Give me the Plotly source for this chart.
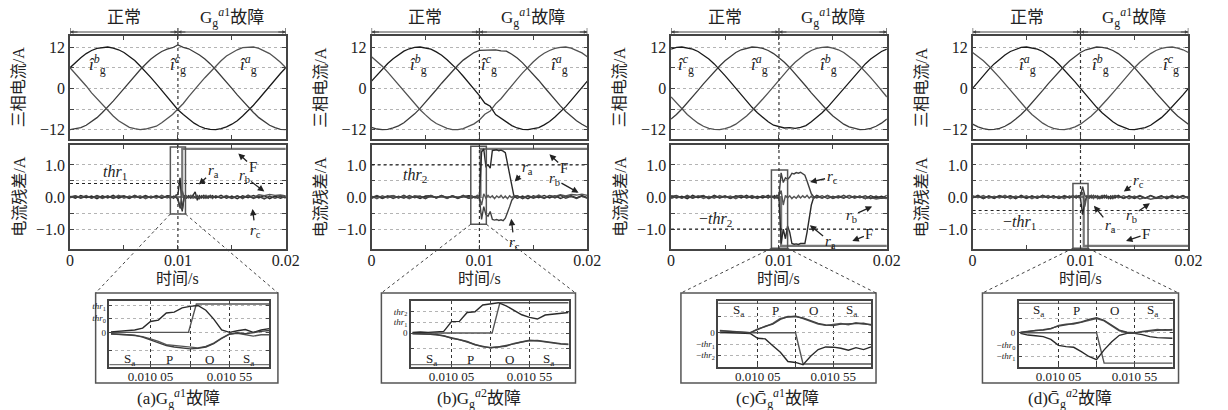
import plotly.graph_objects as go

FW, FH = 1228, 410
FONT = "Liberation Serif, Noto Sans CJK SC, serif"
M = "\u2212"

# ---------------- sample times ----------------
t_cur = [round(k * 0.0005, 5) for k in range(41)]
t_res = ([round(k * 0.0005, 5) for k in range(19)]
         + [0.0093, 0.0096, 0.0098, 0.0100, 0.0102, 0.0104, 0.0106, 0.0108, 0.0110, 0.0112,
            0.0114, 0.0116, 0.0118, 0.0120, 0.0122, 0.0124, 0.0126, 0.0128, 0.0130, 0.0132]
         + [round(0.0135 + k * 0.0005, 5) for k in range(14)])
t_in = [round(0.0098 + k * 0.00005, 6) for k in range(21)]

# ---------------- three-phase currents (A) ----------------
ia_a = [6.0, 4.3, 2.4, 0.7, -1.3, -3.0, -4.9, -6.6, -8.0, -9.4, -10.3, -11.3, -11.7, -12.0, -11.8, -11.5, -11.0, -10.0, -8.9, -7.6,
        -6.0, -4.4, -2.4, -0.7, 1.3, 3.1, 4.8, 6.6, 8.0, 9.4, 10.3, 11.2, 11.8, 11.9, 12.0, 11.6, 10.9, 10.1, 8.9, 7.6, 6.0]
ib_a = [6.0, 7.6, 8.9, 10.1, 11.0, 11.6, 11.9, 12.0, 11.7, 11.2, 10.4, 9.3, 8.1, 6.5, 4.9, 3.1, 1.3, -0.6, -2.5, -4.3,
        -6.2, -7.6, -8.9, -10.1, -11.0, -11.6, -11.9, -12.0, -11.7, -11.2, -10.4, -9.4, -8.0, -6.5, -4.9, -3.1, -1.2, 0.6, 2.5, 4.3, 6.0]
ic_a = [-12.0, -11.8, -11.4, -10.7, -9.7, -8.5, -7.0, -5.5, -3.7, -1.9, 0.0, 1.9, 3.7, 5.4, 7.0, 8.5, 9.7, 10.7, 11.4, 11.8,
        12.6, 11.9, 11.5, 10.7, 9.7, 8.5, 7.1, 5.4, 3.7, 1.9, 0.0, -1.9, -3.7, -5.5, -7.0, -8.5, -9.7, -10.7, -11.4, -11.9, -12.0]

ia_b = [9.2, 7.9, 6.4, 4.7, 2.9, 1.0, -0.8, -2.7, -4.5, -6.2, -7.7, -9.1, -10.2, -11.0, -11.6, -12.0, -12.0, -11.7, -11.1, -10.3,
        -9.2, -7.5, -6.6, -4.5, -3.0, -1.0, 0.8, 2.7, 4.5, 6.2, 7.7, 9.1, 10.2, 11.0, 11.6, 11.9, 12.0, 11.7, 11.1, 10.3, 9.2]
ib_b = [2.1, 3.9, 5.6, 7.2, 8.6, 9.8, 10.8, 11.5, 11.9, 12.0, 11.8, 11.4, 10.6, 9.6, 8.3, 6.9, 5.3, 3.5, 1.7, -0.2,
        -2.1, -4.3, -5.2, -7.6, -8.6, -9.8, -10.8, -11.5, -11.9, -12.0, -11.8, -11.4, -10.6, -9.6, -8.3, -6.9, -5.3, -3.5, -1.7, 0.2, 2.1]
ic_b = [-11.3, -11.8, -12.0, -11.9, -11.5, -10.9, -10.0, -8.8, -7.4, -5.8, -4.1, -2.3, -0.4, 1.5, 3.3, 5.1, 6.7, 8.2, 9.4, 10.4,
        11.0, 11.1, 11.0, 11.2, 10.9, 10.8, 9.9, 8.8, 7.4, 5.8, 4.1, 2.3, 0.4, -1.5, -3.3, -5.1, -6.7, -8.2, -9.4, -10.4, -11.3]

ia_c = [-8.9, -7.6, -6.0, -4.3, -2.5, -0.6, 1.3, 3.1, 4.9, 6.5, 8.0, 9.3, 10.4, 11.2, 11.7, 12.0, 11.9, 11.6, 11.0, 10.1,
        8.9, 7.6, 6.0, 4.3, 2.5, 0.6, -1.3, -3.1, -4.9, -6.5, -8.0, -9.3, -10.4, -11.2, -11.7, -12.0, -11.9, -11.6, -11.0, -10.1, -8.9]
ib_c = [-2.5, -4.3, -6.0, -7.6, -8.9, -10.1, -11.0, -11.6, -11.9, -12.0, -11.7, -11.2, -10.4, -9.3, -8.0, -6.5, -4.9, -3.1, -1.3, 0.6,
        2.5, 4.3, 6.0, 7.6, 8.9, 10.1, 11.0, 11.6, 11.9, 12.0, 11.7, 11.2, 10.4, 9.3, 8.0, 6.5, 4.9, 3.1, 1.3, -0.6, -2.5]
ic_c = [11.4, 11.9, 12.0, 11.8, 11.4, 10.7, 9.7, 8.5, 7.1, 5.5, 3.7, 1.9, 0.0, -1.9, -3.7, -5.5, -7.1, -8.5, -9.7, -10.7,
        -11.2, -11.5, -11.4, -11.6, -11.3, -10.8, -9.7, -8.5, -7.1, -5.5, -3.7, -1.9, 0.0, 1.9, 3.7, 5.5, 7.1, 8.5, 9.7, 10.7, 11.4]

ia_d = [0.0, 1.9, 3.7, 5.5, 7.1, 8.5, 9.7, 10.7, 11.4, 11.9, 12.0, 11.8, 11.4, 10.7, 9.7, 8.5, 7.0, 5.4, 3.7, 1.9,
        0.0, -1.9, -3.7, -5.5, -7.1, -8.5, -9.7, -10.7, -11.4, -11.9, -12.0, -11.8, -11.4, -10.7, -9.7, -8.5, -7.0, -5.4, -3.7, -1.9, 0.0]
ib_d = [-10.4, -11.2, -11.7, -12.0, -11.9, -11.6, -11.0, -10.1, -8.9, -7.6, -6.0, -4.3, -2.5, -0.6, 1.3, 3.1, 4.9, 6.5, 8.0, 9.3,
        10.4, 11.2, 11.7, 12.0, 11.9, 11.6, 11.0, 10.1, 8.9, 7.6, 6.0, 4.3, 2.5, 0.6, -1.3, -3.1, -4.9, -6.5, -8.0, -9.3, -10.4]
ic_d = [10.4, 9.3, 8.0, 6.5, 4.9, 3.1, 1.3, -0.6, -2.5, -4.3, -6.0, -7.6, -8.9, -10.1, -11.0, -11.6, -11.9, -12.0, -11.7, -11.2,
        -10.4, -9.3, -8.0, -6.5, -4.9, -3.1, -1.3, 0.6, 2.5, 4.3, 6.0, 7.6, 8.9, 10.1, 11.0, 11.6, 11.9, 12.0, 11.7, 11.2, 10.4]

# ---------------- current residuals (A) ----------------
ra_a = ([0.02, -0.04, 0.05, -0.02, 0.03, -0.05, 0.04, -0.03, 0.05, -0.04, 0.02, -0.05, 0.04, -0.02, 0.05, -0.03, 0.03, -0.04, 0.04]
        + [0.03, -0.04, 0.05, 0.08, 0.60, -0.45, 0.05, -0.03, 0.04, -0.02, 0.05, 0.16, -0.10, 0.04, -0.03, 0.05, -0.04, 0.03, -0.02, 0.04]
        + [-0.03, 0.05, -0.04, 0.03, -0.05, 0.04, -0.02, 0.05, -0.03, 0.04, -0.05, 0.03, -0.04, 0.02])
rb_a = ([-0.03, 0.04, -0.02, 0.05, -0.04, 0.03, -0.05, 0.02, -0.03, 0.05, -0.04, 0.03, -0.02, 0.04, -0.05, 0.03, -0.04, 0.05, -0.03]
        + [0.02, -0.03, 0.04, -0.10, -0.35, 0.20, -0.02, 0.04, -0.03, 0.05, -0.04, 0.02, 0.05, -0.03, 0.04, -0.02, 0.05, -0.04, 0.03, -0.05]
        + [0.04, -0.02, 0.05, -0.03, 0.04, -0.05, 0.06, -0.02, 0.07, 0.04, 0.08, 0.05, 0.06, 0.03])
rc_a = ([0.01, 0.03, -0.04, 0.02, -0.03, 0.05, -0.02, 0.04, -0.05, 0.02, 0.04, -0.03, 0.05, -0.04, 0.02, -0.02, 0.05, -0.03, 0.02]
        + [-0.04, 0.03, -0.02, -0.05, -0.30, -0.40, 0.05, -0.03, 0.02, -0.04, 0.05, -0.03, 0.02, -0.05, 0.03, -0.04, 0.02, -0.03, 0.05, -0.02]
        + [0.03, -0.04, 0.02, -0.05, 0.03, -0.02, 0.04, -0.05, 0.02, -0.06, 0.03, -0.04, 0.02, -0.03])

ra_b = ([-0.04, 0.03, -0.05, 0.02, 0.04, -0.03, 0.05, -0.04, 0.02, -0.05, 0.03, 0.04, -0.02, 0.05, -0.04, 0.03, -0.05, 0.02, 0.04]
        + [0.03, -0.02, 0.04, 0.02, 1.40, 1.50, 0.95, 1.00, 0.90, 1.45, 1.46, 1.47, 1.44, 1.46, 1.43, 1.38, 1.05, 0.70, 0.30, 0.02]
        + [-0.04, 0.03, -0.05, 0.04, -0.02, 0.05, -0.03, 0.04, -0.05, 0.02, 0.04, -0.03, 0.05, -0.02])
rb_b = ([0.03, -0.05, 0.04, -0.03, 0.05, -0.02, 0.03, -0.05, 0.04, 0.02, -0.04, 0.05, -0.03, 0.02, -0.05, 0.04, -0.02, 0.03, -0.04]
        + [0.02, -0.03, 0.05, -0.02, -0.25, 0.10, -0.04, 0.05, -0.02, 0.04, -0.05, 0.03, -0.02, 0.05, -0.04, 0.03, -0.05, 0.04, -0.02, 0.05]
        + [0.03, -0.03, 0.05, -0.02, 0.06, -0.03, 0.05, 0.02, 0.07, 0.03, 0.08, 0.06, 0.09, 0.05])
rc_b = ([-0.02, 0.05, -0.03, 0.04, -0.05, 0.02, -0.04, 0.05, -0.02, 0.03, -0.05, 0.04, -0.03, 0.05, -0.02, 0.04, -0.03, 0.05, -0.04]
        + [-0.03, 0.02, -0.04, -0.02, -0.70, -0.30, -0.55, -0.60, -0.45, -0.70, -0.72, -0.70, -0.73, -0.71, -0.74, -0.66, -0.50, -0.30, -0.10, -0.02]
        + [0.04, -0.05, 0.03, -0.04, 0.02, -0.05, 0.04, -0.03, 0.05, -0.04, 0.02, -0.05, 0.03, -0.04])

ra_c = ([0.04, -0.03, 0.02, -0.05, 0.05, -0.02, 0.03, -0.04, 0.05, -0.03, 0.02, -0.05, 0.04, -0.03, 0.05, -0.04, 0.02, -0.03, 0.05]
        + [-0.02, 0.04, -0.03, -0.03, -1.45, -1.00, -1.30, -0.90, -1.10, -1.45, -1.47, -1.46, -1.48, -1.45, -1.46, -1.45, -1.10, -0.70, -0.25, -0.03]
        + [0.05, -0.03, 0.04, -0.05, 0.02, -0.04, 0.05, -0.02, 0.03, -0.05, 0.04, -0.03, 0.02, -0.04])
rb_c = ([-0.05, 0.02, -0.04, 0.05, -0.03, 0.04, -0.05, 0.02, -0.04, 0.05, -0.02, 0.03, -0.05, 0.04, -0.02, 0.05, -0.03, 0.04, -0.02]
        + [0.03, -0.05, 0.02, 0.04, 0.20, -0.25, 0.05, -0.03, 0.04, -0.05, 0.02, -0.04, 0.05, -0.03, 0.04, -0.02, 0.05, -0.04, 0.03, -0.05]
        + [0.02, -0.04, 0.05, -0.03, 0.04, -0.02, 0.05, -0.04, 0.02, -0.05, -0.02, -0.06, -0.03, -0.05])
rc_c = ([0.02, 0.05, -0.03, 0.03, -0.04, 0.02, 0.05, -0.05, 0.03, -0.02, 0.04, -0.04, 0.02, 0.05, -0.03, 0.02, -0.05, 0.04, -0.03]
        + [0.04, -0.03, 0.05, 0.03, 0.75, 0.45, 0.60, 0.55, 0.62, 0.74, 0.72, 0.76, 0.74, 0.77, 0.73, 0.68, 0.50, 0.30, 0.10, 0.02]
        + [-0.03, 0.04, -0.05, 0.02, -0.03, 0.05, -0.04, 0.03, -0.02, 0.04, -0.05, 0.03, -0.04, 0.05])

ra_d = ([-0.03, 0.05, -0.04, 0.02, -0.05, 0.04, -0.02, 0.03, -0.05, 0.05, -0.03, 0.02, -0.04, 0.05, -0.03, 0.04, -0.05, 0.02, -0.03]
        + [0.04, -0.02, 0.03, -0.05, -0.55, -0.15, 0.03, -0.04, 0.05, -0.03, 0.04, -0.05, 0.02, -0.04, 0.05, -0.03, 0.02, -0.05, 0.04, -0.03]
        + [0.05, -0.04, 0.02, -0.05, 0.03, -0.04, 0.05, -0.02, 0.04, -0.05, 0.03, -0.02, 0.05, -0.04])
rb_d = ([0.04, -0.02, 0.05, -0.04, 0.02, -0.03, 0.05, -0.05, 0.03, -0.02, 0.04, -0.05, 0.03, -0.02, 0.05, -0.04, 0.03, -0.05, 0.04]
        + [-0.03, 0.05, -0.02, 0.04, 0.15, -0.30, 0.05, -0.02, 0.04, -0.05, 0.03, -0.04, 0.02, 0.05, -0.03, 0.04, -0.05, 0.03, -0.02, 0.05]
        + [-0.03, 0.04, -0.05, 0.03, -0.06, -0.02, -0.07, -0.03, -0.05, 0.02, -0.04, 0.03, -0.05, 0.02])
rc_d = ([-0.02, 0.03, -0.05, 0.04, -0.03, 0.05, -0.02, 0.04, -0.03, 0.02, -0.05, 0.04, -0.03, 0.05, -0.02, 0.03, -0.04, 0.05, -0.02]
        + [0.05, -0.03, 0.04, 0.05, 0.32, 0.05, -0.02, 0.04, -0.03, 0.05, -0.02, 0.04, -0.05, 0.03, -0.02, 0.05, -0.04, 0.03, -0.05, 0.04]
        + [0.02, -0.05, 0.04, -0.02, 0.05, -0.03, 0.04, -0.05, 0.02, -0.03, 0.05, -0.04, 0.03, -0.02])

# fault flag F (step)
fa_t, fa_v = [0, 0.0104, 0.02], [0, 1.5, 1.5]
fb_t, fb_v = [0, 0.0101, 0.02], [0, 1.5, 1.5]
fc_t, fc_v = [0, 0.0102, 0.02], [0, -1.52, -1.52]
fd_t, fd_v = [0, 0.0103, 0.02], [0, -1.52, -1.52]

# ---------------- zoomed insets ----------------
ina_ra = [0.01, 0.02, 0.03, 0.05, 0.09, 0.23, 0.26, 0.41, 0.43, 0.52, 0.55, 0.57, 0.47, 0.28, 0.05, 0.0, 0.035, 0.06, 0.0, 0.05, 0.08]
ina_rb = [-0.035, -0.035, -0.05, -0.07, -0.09, -0.14, -0.19, -0.26, -0.28, -0.30, -0.315, -0.33, -0.30, -0.23, -0.12, -0.035, -0.02, -0.05, -0.08, -0.05, -0.05]
ina_rc = [-0.03, -0.04, -0.045, -0.06, -0.10, -0.16, -0.22, -0.28, -0.31, -0.33, -0.35, -0.34, -0.31, -0.24, -0.13, -0.04, -0.01, -0.03, 0.0, 0.02, 0.04]
ina_ft, ina_fv = [0.0098, 0.01029, 0.01034, 0.0108], [0, 0, 0.6, 0.6]

inb_ra = [0.03, 0.05, 0.03, 0.05, 0.08, 0.54, 0.55, 0.97, 1.0, 1.32, 1.36, 1.43, 1.28, 1.08, 0.86, 0.74, 0.66, 0.85, 0.89, 0.95, 0.97]
inb_rb = [-0.03, -0.03, -0.05, -0.08, -0.12, -0.25, -0.31, -0.42, -0.52, -0.65, -0.68, -0.65, -0.62, -0.49, -0.40, -0.34, -0.37, -0.43, -0.49, -0.52, -0.54]
inb_rc = [-0.02, -0.04, -0.04, -0.07, -0.14, -0.23, -0.34, -0.40, -0.55, -0.62, -0.70, -0.66, -0.60, -0.51, -0.42, -0.36, -0.35, -0.41, -0.47, -0.50, -0.52]
inb_ft, inb_fv = [0.0098, 0.01031, 0.01036, 0.0108], [0, 0, 1.43, 1.43]

inc_ra = [0.03, 0.015, 0.0, -0.015, -0.03, -0.25, -0.28, -0.59, -0.89, -1.32, -1.36, -1.46, -1.08, -0.77, -0.65, -0.66, -0.71, -0.80, -0.68, -0.77, -0.65]
inc_rb = [0.11, 0.08, 0.05, 0.02, 0.0, 0.18, 0.28, 0.43, 0.66, 0.72, 0.77, 0.65, 0.52, 0.40, 0.34, 0.37, 0.43, 0.37, 0.46, 0.40, 0.38]
inc_rc = [0.09, 0.07, 0.04, 0.03, 0.01, 0.15, 0.30, 0.40, 0.62, 0.75, 0.74, 0.68, 0.55, 0.43, 0.36, 0.33, 0.40, 0.41, 0.42, 0.44, 0.36]
inc_ft, inc_fv = [0.0098, 0.0103, 0.01035, 0.0108], [0, 0, -1.43, -1.43]

ind_ra = [-0.03, -0.11, -0.14, -0.18, -0.31, -0.59, -0.65, -0.68, -0.88, -1.11, -1.26, -0.80, -0.42, -0.12, -0.03, -0.03, -0.09, -0.18, -0.23, -0.26, -0.26]
ind_rb = [0.0, 0.06, 0.11, 0.12, 0.18, 0.34, 0.40, 0.40, 0.48, 0.59, 0.66, 0.55, 0.31, 0.09, 0.0, -0.03, 0.06, 0.12, 0.15, 0.12, 0.15]
ind_rc = [0.02, 0.05, 0.09, 0.14, 0.20, 0.31, 0.37, 0.42, 0.50, 0.62, 0.70, 0.58, 0.34, 0.12, 0.02, 0.0, 0.04, 0.09, 0.11, 0.14, 0.12]
ind_ft, ind_fv = [0.0098, 0.0103, 0.01035, 0.0108], [0, 0, -1.42, -1.42]

phase_t = [0.00992, 0.01017, 0.01042, 0.01067]
phase_txt = ["S<sub>a</sub>", "P", "O", "S<sub>a</sub>"]

def thr(s, sub):
    return f"{s}<i>thr</i><sub>{sub}</sub>"

def rl(s):
    return f"<i>r</i><sub>{s}</sub>"

panels = [
    dict(cur=[ib_a, ic_a, ia_a], cur_lab=[("b", 0.00256), ("c", 0.01005), ("a", 0.01653)],
         res=[ra_a, rb_a, rc_a], flag=(fa_t, fa_v), thr=0.42, thr_txt=thr("", 1), thr_pos=(0.0042, 0.77),
         zbox=(0.0093, 0.0107, -0.53, 1.56),
         rlab=[(rl("a"), 0.01187, 0.37, 15, -14), ("F", 0.01553, 1.38, 15, 14),
               (rl("b"), 0.01808, 0.15, -21, -16), (rl("c"), 0.0169, -0.34, 3, 23)],
         ins=(ina_ra, ina_rb, ina_rc, ina_ft, ina_fv), iyr=[-0.735, 0.665],
         itv=[-0.39, 0, 0.30, 0.56], itt=["", "0", thr("", 0), thr("", 1)], ph_y=0.12,
         cap="(a)G<sub>g</sub><sup><i>a</i>1</sup>故障"),
    dict(cur=[ib_b, ic_b, ia_b], cur_lab=[("b", 0.00431), ("c", 0.01092), ("a", 0.01743)],
         res=[ra_b, rb_b, rc_b], flag=(fb_t, fb_v), thr=1.0, thr_txt=thr("", 2), thr_pos=(0.00404, 0.68),
         zbox=(0.0092, 0.01064, -0.85, 1.58),
         rlab=[(rl("a"), 0.01321, 0.46, 13, -14), ("F", 0.01642, 1.35, 15, 14),
               (rl("b"), 0.01927, 0.12, -25, -14), (rl("c"), 0.01294, -0.65, 3, 25)],
         ins=(inb_ra, inb_rb, inb_rc, inb_ft, inb_fv), iyr=[-1.60, 1.51],
         itv=[-0.75, 0, 0.52, 1.02], itt=["", "0", thr("", 1), thr("", 2)], ph_y=0.12,
         cap="(b)G<sub>g</sub><sup><i>a</i>2</sup>故障"),
    dict(cur=[ic_c, ia_c, ib_c], cur_lab=[("c", 0.00137), ("a", 0.00822), ("b", 0.01461)],
         res=[ra_c, rb_c, rc_c], flag=(fc_t, fc_v), thr=-1.0, thr_txt=thr(M, 2), thr_pos=(0.00411, -0.71),
         zbox=(0.0093, 0.0108, -1.6, 0.84),
         rlab=[(rl("c"), 0.01279, 0.46, 23, -5), (rl("b"), 0.01872, -0.28, -22, 10),
               (rl("a"), 0.01279, -0.86, 21, 17), ("F", 0.01671, -1.38, 18, -7)],
         ins=(inc_ra, inc_rb, inc_rc, inc_ft, inc_fv), iyr=[-1.57, 1.46],
         itv=[-1.02, -0.52, 0, 0.75], itt=[thr(M, 2), thr(M, 1), "0", ""], ph_y=0.86,
         cap="(c)Ḡ<sub>g</sub><sup><i>a</i>1</sup>故障"),
    dict(cur=[ia_d, ib_d, ic_d], cur_lab=[("a", 0.00505), ("b", 0.01183), ("c", 0.01835)],
         res=[ra_d, rb_d, rc_d], flag=(fd_t, fd_v), thr=-0.42, thr_txt=thr(M, 1), thr_pos=(0.00431, -0.8),
         zbox=(0.0093, 0.0107, -1.6, 0.42),
         rlab=[(rl("c"), 0.01394, 0.15, 15, -11), (rl("a"), 0.01119, -0.25, 17, 21),
               (rl("b"), 0.01651, -0.18, -19, 13), ("F", 0.01413, -1.38, 21, -7)],
         ins=(ind_ra, ind_rb, ind_rc, ind_ft, ind_fv), iyr=[-1.60, 1.48],
         itv=[-1.1, -0.56, 0, 0.66], itt=[thr(M, 1), thr(M, 0), "0", ""], ph_y=0.86,
         cap="(d)Ḡ<sub>g</sub><sup><i>a</i>2</sup>故障"),
]

# ---------------- layout geometry (pixels) ----------------
PL = [67, 373, 677, 983]
PW = 219
TOP = (36, 139)
MID = (145, 249)
INX = [(107, 269), (413, 573), (725, 880), (1030, 1186)]
INY = (301, 367)
BOXX = [(93, 278), (383, 580), (687, 885), (993, 1192)]
BOXY = (293, 383)
CAPX = [177, 482, 785, 1082]
HDR_Y = 32

def fx(p): return p / FW
def fy(p): return 1 - p / FH

TR = (0, 0.02)
MR = (-1.62, 1.62)
IR = (0.00979, 0.0108)

AX = dict(showline=True, linecolor="#444", linewidth=1.5, mirror="ticks", ticks="inside",
          ticklen=4, tickcolor="#444", tickwidth=1, zeroline=False, showgrid=False,
          tickfont=dict(family=FONT, size=16, color="#222"))

fig = go.Figure()
lay = {}
ann = []
shp = []
cur_cols = ["#1a1a1a", "#3c3c3c", "#525252"]
res_cols = ["#2a2a2a", "#555555", "#404040"]

def sfx(n):
    return "" if n == 1 else str(n)

def A(**kw):
    d = dict(xanchor="center", yanchor="middle")
    d.update(kw)
    ann.append(d)

for p, P in enumerate(panels):
    nt, nm, ni = 3 * p + 1, 3 * p + 2, 3 * p + 3
    xt, yt = "x" + sfx(nt), "y" + sfx(nt)
    xm, ym = "x" + sfx(nm), "y" + sfx(nm)
    xi, yi = "x" + sfx(ni), "y" + sfx(ni)
    dx = [fx(PL[p]), fx(PL[p] + PW)]
    dyt = [fy(TOP[1]), fy(TOP[0])]
    dym = [fy(MID[1]), fy(MID[0])]

    lay["xaxis" + sfx(nt)] = dict(AX, domain=dx, anchor=yt, range=list(TR), showticklabels=False,
                                   tickvals=[0, 0.005, 0.01, 0.015, 0.02])
    lay["yaxis" + sfx(nt)] = dict(AX, domain=dyt, anchor=xt, range=[-14.7, 15.2],
                                   tickvals=[-12, -6, 0, 6, 12], ticktext=[M + "12", "", "0", "", "12"],
                                   showgrid=True, griddash="dot", gridcolor="#b4b4b4", gridwidth=1)
    lay["xaxis" + sfx(nm)] = dict(AX, domain=dx, anchor=ym, range=list(TR), ticklabelstandoff=-4,
                                   tickvals=[0, 0.005, 0.01, 0.015, 0.02], ticktext=["0", "", "0.01", "", "0.02"])
    lay["yaxis" + sfx(nm)] = dict(AX, domain=dym, anchor=xm, range=list(MR),
                                   tickvals=[-1, -0.5, 0, 0.5, 1], ticktext=[M + "1.0", "", "0.0", "", "1.0"],
                                   showgrid=True, griddash="dot", gridcolor="#b4b4b4", gridwidth=1)
    lay["xaxis" + sfx(ni)] = dict(AX, domain=[fx(INX[p][0]), fx(INX[p][1])], anchor=yi, range=list(IR),
                                   tickvals=[0.01005, 0.0103, 0.01055], ticktext=["0.010 05", "", "0.010 55"],
                                   ticklen=3, showgrid=True, griddash="dot", gridcolor="#333", gridwidth=1,
                                   ticklabelstandoff=-3,
                                   tickfont=dict(family=FONT, size=13, color="#222"))
    lay["yaxis" + sfx(ni)] = dict(AX, domain=[fy(INY[1]), fy(INY[0])], anchor=xi, range=P["iyr"],
                                   tickvals=P["itv"], ticktext=P["itt"], ticklen=3,
                                   showgrid=True, griddash="dot", gridcolor="#b4b4b4", gridwidth=1,
                                   tickfont=dict(family=FONT, size=9, color="#222"))

    # inset outer box (behind)
    shp.append(dict(type="rect", xref="paper", yref="paper", x0=fx(BOXX[p][0]), x1=fx(BOXX[p][1]),
                    y0=fy(BOXY[1]), y1=fy(BOXY[0]), line=dict(color="#555", width=1.5),
                    fillcolor="white", layer="below"))

    # currents
    for k, ser in enumerate(P["cur"]):
        fig.add_trace(go.Scatter(x=t_cur, y=ser, xaxis=xt, yaxis=yt, mode="lines",
                                 line=dict(color=cur_cols[k], width=1.3), showlegend=False, hoverinfo="skip"))
    for ph, tl in P["cur_lab"]:
        A(x=tl, y=7.0, xref=xt, yref=yt, showarrow=False,
          text=f"<i>î</i><sup><i>{ph}</i></sup><sub>g</sub>",
          font=dict(family=FONT, size=17, color="#222"))

    # residuals
    ft, fv = P["flag"]
    fig.add_trace(go.Scatter(x=ft, y=fv, xaxis=xm, yaxis=ym, mode="lines", line_shape="hv",
                             line=dict(color="#777", width=2.2), showlegend=False, hoverinfo="skip"))
    for k, ser in enumerate(P["res"]):
        fig.add_trace(go.Scatter(x=t_res, y=ser, xaxis=xm, yaxis=ym, mode="lines",
                                 line=dict(color=res_cols[k], width=1.4), showlegend=False, hoverinfo="skip"))
    shp.append(dict(type="line", xref=xm, yref=ym, x0=0, x1=0.02, y0=P["thr"], y1=P["thr"],
                    line=dict(color="#222", width=1.2, dash="dot")))
    A(x=P["thr_pos"][0], y=P["thr_pos"][1], xref=xm, yref=ym, showarrow=False,
      text=P["thr_txt"], font=dict(family=FONT, size=16, color="#222"))
    for txt, tx, ty, axp, ayp in P["rlab"]:
        A(x=tx, y=ty, xref=xm, yref=ym, ax=axp, ay=ayp, showarrow=True, text=txt,
          arrowhead=2, arrowsize=1, arrowwidth=1.3, arrowcolor="#222", standoff=1,
          font=dict(family=FONT, size=15, color="#222"))

    # zoom box + connectors
    zx0, zx1, zy0, zy1 = P["zbox"]
    shp.append(dict(type="rect", xref=xm, yref=ym, x0=zx0, x1=zx1, y0=zy0, y1=zy1,
                    line=dict(color="#555", width=1.5)))
    def to_paper(t, v):
        px = dx[0] + (t - TR[0]) / (TR[1] - TR[0]) * (dx[1] - dx[0])
        py = dym[0] + (v - MR[0]) / (MR[1] - MR[0]) * (dym[1] - dym[0])
        return px, py
    for tcorner, bx in ((zx0, BOXX[p][0]), (zx1, BOXX[p][1])):
        px, py = to_paper(tcorner, max(zy0, MR[0]))
        shp.append(dict(type="line", xref="paper", yref="paper", x0=px, y0=py, x1=fx(bx), y1=fy(BOXY[0]),
                        line=dict(color="#444", width=1, dash="dot")))

    # fault instant + header
    shp.append(dict(type="line", xref=xt, yref="paper", x0=0.01, x1=0.01, y0=fy(MID[1]), y1=fy(TOP[0]),
                    line=dict(color="#333", width=1.2, dash="dot")))
    shp.append(dict(type="line", xref=xt, yref="paper", x0=0, x1=0.02, y0=fy(HDR_Y), y1=fy(HDR_Y),
                    line=dict(color="#444", width=1)))
    for xv in (0, 0.01, 0.02):
        shp.append(dict(type="line", xref=xt, yref="paper", x0=xv, x1=xv, y0=fy(TOP[0]), y1=fy(HDR_Y - 4),
                        line=dict(color="#444", width=1.2)))
    for xv, axp in ((0.01, -9), (0.02, -9), (0.0, 9), (0.01, 9)):
        A(x=xv, y=fy(HDR_Y), xref=xt, yref="paper", ax=axp, ay=0, showarrow=True, text="",
          arrowhead=2, arrowsize=0.7, arrowwidth=1, arrowcolor="#444", standoff=0)
    A(x=0.005, y=fy(17), xref=xt, yref="paper", showarrow=False, text="正常",
      font=dict(family=FONT, size=17, color="#222"))
    A(x=0.015, y=fy(17), xref=xt, yref="paper", showarrow=False,
      text="G<sub>g</sub><sup><i>a</i>1</sup>故障", font=dict(family=FONT, size=17, color="#222"))

    # axis titles
    A(x=fx(PL[p] - 52), y=fy((TOP[0] + TOP[1]) / 2), xref="paper", yref="paper",
      showarrow=False, text="三相电流/A", textangle=-90,
      font=dict(family=FONT, size=16, color="#222"))
    A(x=fx(PL[p] - 52), y=fy((MID[0] + MID[1]) / 2), xref="paper", yref="paper",
      showarrow=False, text="电流残差/A", textangle=-90,
      font=dict(family=FONT, size=16, color="#222"))
    A(x=fx(PL[p] + PW / 2), y=fy(278), xref="paper", yref="paper", showarrow=False,
      text="时间/s", font=dict(family=FONT, size=16, color="#222"))

    # inset traces
    ira, irb, irc, ift, ifv = P["ins"]
    fig.add_trace(go.Scatter(x=ift, y=ifv, xaxis=xi, yaxis=yi, mode="lines",
                             line=dict(color="#555", width=1.4), showlegend=False, hoverinfo="skip"))
    for k, ser in enumerate((ira, irb, irc)):
        fig.add_trace(go.Scatter(x=t_in, y=ser, xaxis=xi, yaxis=yi, mode="lines",
                                 line=dict(color=res_cols[k], width=1.4), showlegend=False, hoverinfo="skip"))
    for tt, txt in zip(phase_t, phase_txt):
        A(x=tt, y=P["ph_y"], xref=xi, yref=yi + " domain", showarrow=False, text=txt,
          font=dict(family=FONT, size=13, color="#222"))
    bar_y = 0.035 if P["ph_y"] < 0.5 else 0.965
    shp.append(dict(type="line", xref=xi + " domain", yref=yi + " domain", x0=0, x1=1, y0=bar_y, y1=bar_y,
                    line=dict(color="#555", width=1)))

    A(x=fx(CAPX[p]), y=fy(398), xref="paper", yref="paper", showarrow=False,
      text=P["cap"], font=dict(family=FONT, size=17, color="#222"))

fig.update_layout(width=FW, height=FH, autosize=False, margin=dict(l=0, r=0, t=0, b=0),
                  paper_bgcolor="white", plot_bgcolor="white", showlegend=False,
                  annotations=ann, shapes=shp, font=dict(family=FONT, size=14, color="#222"), **lay)

fig.write_html("out.html", config={"displayModeBar": False},
               post_script="document.body.style.margin='0px';document.body.style.overflow='hidden';")
